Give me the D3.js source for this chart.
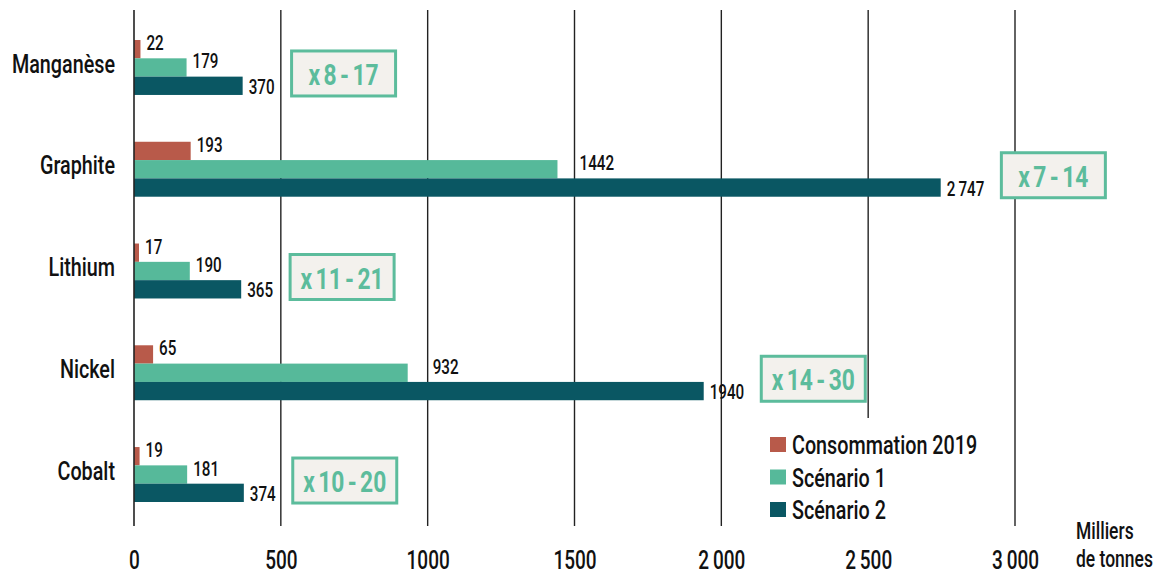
<!DOCTYPE html>
<html>
<head>
<meta charset="utf-8">
<script src="https://cdn.jsdelivr.net/npm/d3@7"></script>
<style>
  html, body { margin: 0; padding: 0; background: #fff; }
  svg { display: block; font-family: Roboto, "Noto Sans", sans-serif; font-weight: 500; }
</style>
</head>
<body>
<svg id="chart" width="1176" height="576"></svg>
<script>
// data
const categories = ['Manganèse', 'Graphite', 'Lithium', 'Nickel', 'Cobalt'];
const seriesNames = ['Consommation 2019', 'Scénario 1', 'Scénario 2'];
const conso2019 = [22, 193, 17, 65, 19];
const scenario1 = [179, 1442, 190, 932, 181];
const scenario2 = [370, 2747, 365, 1940, 374];
const multipliers = ['x 8 - 17', 'x 7 - 14', 'x 11 - 21', 'x 14 - 30', 'x 10 - 20'];
const tickValues = [0, 500, 1000, 1500, 2000, 2500, 3000];
const tickLabels = ['0', '500', '1000', '1500', '2\u2009000', '2\u2009500', '3\u2009000'];
const unitLines = ['Milliers', 'de tonnes'];

const colors = ['#b85a4a', '#56b99a', '#0a5763'];
const boxColor = '#5cbc9c';
const boxFill = '#f3f1ed';

const seriesValues = [conso2019, scenario1, scenario2];

// the reference uses a condensed face: squeeze a normal one to a narrower length
const SX = 0.76;

const svg = d3.select('#chart');

const gridTop = 10,
      gridBottom = 526;

function condense(sel){
  sel.each(function(){
    const w = this.getComputedTextLength();
    d3.select(this)
      .attr('textLength', w * SX)
      .attr('lengthAdjust', 'spacingAndGlyphs');
  });
  return sel;
}

function addText(parent, x, y, str, size, anchor, weight){
  const t = parent.append('text')
    .attr('x', x)
    .attr('y', y)
    .attr('dy', '0.35em')
    .attr('text-anchor', anchor || 'start')
    .style('font-size', size + 'px')
    .style('font-weight', weight || 500)
    .attr('fill', '#111')
    .text(str);
  return condense(t);
}

//scales
const xScale = d3.scaleLinear()
                 .domain([0, 3000])
                 .range([134, 1015]);

const yScale = d3.scaleBand()
                 .domain(categories)
                 .range([40, 502])
                 .paddingInner(0.46)
                 .paddingOuter(0);

const subScale = d3.scaleBand()
                   .domain(seriesNames)
                   .range([0, yScale.bandwidth()]);

//grid lines (behind bars)
svg.append('g')
  .selectAll('line')
  .data(tickValues.filter(d => d > 0))
  .join('line')
    .attr('x1', d => xScale(d))
    .attr('x2', d => xScale(d))
    .attr('y1', gridTop)
    .attr('y2', gridBottom)
    .attr('stroke', '#222')
    .attr('stroke-width', 1.4);

//bars
const groups = svg.append('g')
  .selectAll('g')
  .data(categories)
  .join('g')
    .attr('transform', d => 'translate(0,' + yScale(d) + ')');

groups.each(function(cat, ci){
  const g = d3.select(this);
  seriesNames.forEach((s, si) => {
    const v = seriesValues[si][ci];
    g.append('rect')
      .attr('x', xScale(0))
      .attr('y', subScale(s))
      .attr('width', xScale(v) - xScale(0))
      .attr('height', subScale.bandwidth())
      .attr('fill', colors[si]);
  });
});

//zero line on top
svg.append('line')
  .attr('x1', xScale(0))
  .attr('x2', xScale(0))
  .attr('y1', gridTop)
  .attr('y2', gridBottom)
  .attr('stroke', '#222')
  .attr('stroke-width', 1.6);

//value labels
function fmtValue(v){
  if (v >= 2000) {
    return d3.format(',')(v).replace(',', '\u2009');
  }
  return String(v);
}

const labelEnds = [];

groups.each(function(cat, ci){
  const g = d3.select(this);
  seriesNames.forEach((s, si) => {
    const v = seriesValues[si][ci];
    const end = xScale(v);
    let lx = end + 6;
    // raised labels jump past a grid line right after the bar
    if (si < 2) {
      tickValues.forEach(t => {
        const gx = xScale(t);
        if (t > 0 && gx > end && gx - end < 25) {
          lx = gx + 5;
        }
      });
    }
    const ly = subScale(s) + subScale.bandwidth() / 2 + (si < 2 ? -6 : 1);
    const txt = addText(g, lx, ly, fmtValue(v), 20);
    if (si === 2) {
      labelEnds[ci] = lx + (+txt.attr('textLength'));
    }
  });
});

//category labels
const catG = svg.append('g');
categories.forEach(cat => {
  addText(catG, 115, yScale(cat) + yScale.bandwidth() / 2 - 4, cat, 26, 'end');
});

//multiplier boxes
const boxW = 104, boxH = 45;
categories.forEach((cat, ci) => {
  const bx = labelEnds[ci] + 17;
  const cy = yScale(cat) + yScale.bandwidth() / 2 + 6;
  svg.append('rect')
    .attr('x', bx)
    .attr('y', cy - boxH / 2)
    .attr('width', boxW)
    .attr('height', boxH)
    .attr('fill', boxFill)
    .attr('stroke', boxColor)
    .attr('stroke-width', 3);
  const t = svg.append('text')
    .attr('x', bx + boxW / 2)
    .attr('y', cy + 1)
    .attr('dy', '0.35em')
    .attr('text-anchor', 'middle')
    .style('font-size', '30px')
    .style('font-weight', 'bold')
    .style('word-spacing', '-3px')
    .attr('fill', boxColor)
    .text(multipliers[ci]);
  condense(t);
});

//legend
const legend = svg.append('g');
legend.append('rect')
  .attr('x', 745)
  .attr('y', 418)
  .attr('width', 255)
  .attr('height', 112)
  .attr('fill', '#fff');

seriesNames.forEach((s, i) => {
  const ly = 445 + i * 32.5;
  legend.append('rect')
    .attr('x', 770)
    .attr('y', ly - 8)
    .attr('width', 16)
    .attr('height', 15)
    .attr('fill', colors[i]);
  addText(legend, 792, ly, s, 26);
});

//x axis
const xAxis = d3.axisBottom(xScale)
                .tickValues(tickValues)
                .tickFormat((d, i) => tickLabels[i])
                .tickSize(0)
                .tickPadding(25);

svg.append('g')
  .attr('transform', 'translate(0,' + gridBottom + ')')
  .call(xAxis)
  .call(g => g.select('.domain').remove())
  .selectAll('text')
    .style('font-family', 'Roboto, "Noto Sans", sans-serif')
    .style('font-weight', '500')
    .style('font-size', '25px')
    .attr('fill', '#111')
    .call(condense);

//unit label
unitLines.forEach((line, i) => {
  addText(svg, 1076, 531 + i * 28, line, 23);
});
</script>
</body>
</html>
